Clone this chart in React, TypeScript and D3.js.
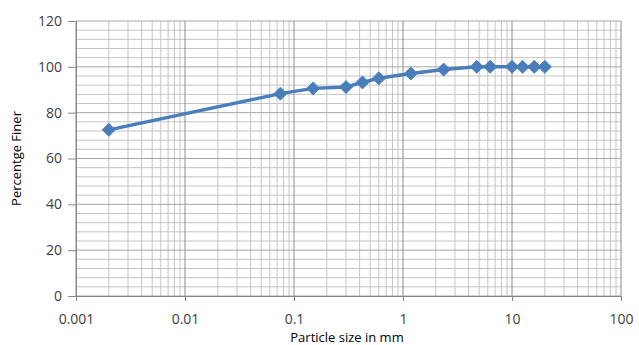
import React, { useEffect, useRef } from "react";
import * as d3 from "d3";

// Grain size distribution (sieve + hydrometer)
const sizes = [0.002, 0.075, 0.15, 0.3, 0.425, 0.6, 1.18, 2.36, 4.75, 6.3, 10, 12.5, 16, 20];
const finer = [72.5, 88.3, 90.6, 91.2, 93.2, 95, 97.1, 98.8, 100, 100, 100, 100, 100, 100];
const xTicks = [0.001, 0.01, 0.1, 1, 10, 100];
const xTickLabels = ["0.001", "0.01", "0.1", "1", "10", "100"];
const yTicks = [0, 20, 40, 60, 80, 100, 120];

const App = () => {
  const svgRef = useRef<SVGSVGElement>(null);

  useEffect(() => {
    const width = 639;
    const height = 345;
    const margin = { top: 21, right: 18, bottom: 49, left: 76 };
    const font = "Open Sans, sans-serif";

    const svg = d3.select(svgRef.current);
    svg.selectAll("*").remove();

    const x = d3.scaleLog()
      .domain([0.001, 100])
      .range([margin.left, width - margin.right]);

    const y = d3.scaleLinear()
      .domain([0, 120])
      .range([height - margin.bottom, margin.top]);

    // minor vertical grid (2..9 each decade)
    const minorX: number[] = [];
    for (let e = -3; e < 2; e++) {
      for (let m = 2; m <= 9; m++) minorX.push(m * Math.pow(10, e));
    }
    svg.append("g")
      .selectAll("line")
      .data(minorX)
      .join("line")
      .attr("x1", d => x(d)).attr("x2", d => x(d))
      .attr("y1", y(0)).attr("y2", y(120))
      .attr("stroke", "#c4c4c4")
      .attr("stroke-width", 1);

    // minor horizontal grid (every 4)
    const minorY = d3.range(4, 120, 4).filter(v => v % 20 !== 0);
    svg.append("g")
      .selectAll("line")
      .data(minorY)
      .join("line")
      .attr("x1", x(0.001)).attr("x2", x(100))
      .attr("y1", d => y(d)).attr("y2", d => y(d))
      .attr("stroke", "#c4c4c4")
      .attr("stroke-width", 1);

    // major grid
    svg.append("g")
      .selectAll("line")
      .data(xTicks)
      .join("line")
      .attr("x1", d => x(d)).attr("x2", d => x(d))
      .attr("y1", y(0)).attr("y2", y(120))
      .attr("stroke", "#8c8c8c")
      .attr("stroke-width", 1);

    svg.append("g")
      .selectAll("line")
      .data(yTicks)
      .join("line")
      .attr("x1", x(0.001)).attr("x2", x(100))
      .attr("y1", d => y(d)).attr("y2", d => y(d))
      .attr("stroke", "#a6a6a6")
      .attr("stroke-width", 1);

    // axes
    const xAxis = svg.append("g")
      .attr("transform", `translate(0,${y(0)})`)
      .call(d3.axisBottom(x).tickValues(xTicks).tickFormat((d, i) => xTickLabels[i]).tickSize(5).tickPadding(13));
    const yAxis = svg.append("g")
      .attr("transform", `translate(${x(0.001)},0)`)
      .call(d3.axisLeft(y).tickValues(yTicks).tickSize(8).tickPadding(6));

    [xAxis, yAxis].forEach(g => {
      g.select(".domain").attr("stroke", "#868686");
      g.selectAll(".tick line").attr("stroke", "#868686");
      g.selectAll("text")
        .attr("fill", "#404040")
        .style("font-family", font)
        .style("font-size", "14px");
    });

    // series line
    const pts = sizes.map((s, i) => [s, finer[i]] as [number, number]);
    svg.append("path")
      .datum(pts)
      .attr("fill", "none")
      .attr("stroke", "#4a7ebb")
      .attr("stroke-width", 3.5)
      .attr("stroke-linejoin", "round")
      .attr("d", d3.line<[number, number]>().x(d => x(d[0])).y(d => y(d[1])));

    // diamond markers
    svg.append("g")
      .selectAll("path")
      .data(pts)
      .join("path")
      .attr("transform", d => `translate(${x(d[0])},${y(d[1])})`)
      .attr("d", "M0,-6.5L6.5,0L0,6.5L-6.5,0Z")
      .attr("fill", "#4a7ebb")
      .attr("stroke", "#4a7ebb")
      .attr("stroke-width", 1);

    // axis titles
    svg.append("text")
      .attr("x", 347)
      .attr("y", 342)
      .attr("text-anchor", "middle")
      .attr("fill", "#000")
      .style("font-family", font)
      .style("font-size", "13px")
      .text("Particle size in mm");

    svg.append("text")
      .attr("transform", `translate(21,${y(60)}) rotate(-90)`)
      .attr("text-anchor", "middle")
      .attr("fill", "#000")
      .style("font-family", font)
      .style("font-size", "13px")
      .text("Percentge Finer");
  }, []);

  return (
    <svg
      ref={svgRef}
      width={639}
      height={345}
      style={{ position: "absolute", left: 0, top: 0, background: "#fff" }}
    ></svg>
  );
};

export default App;
